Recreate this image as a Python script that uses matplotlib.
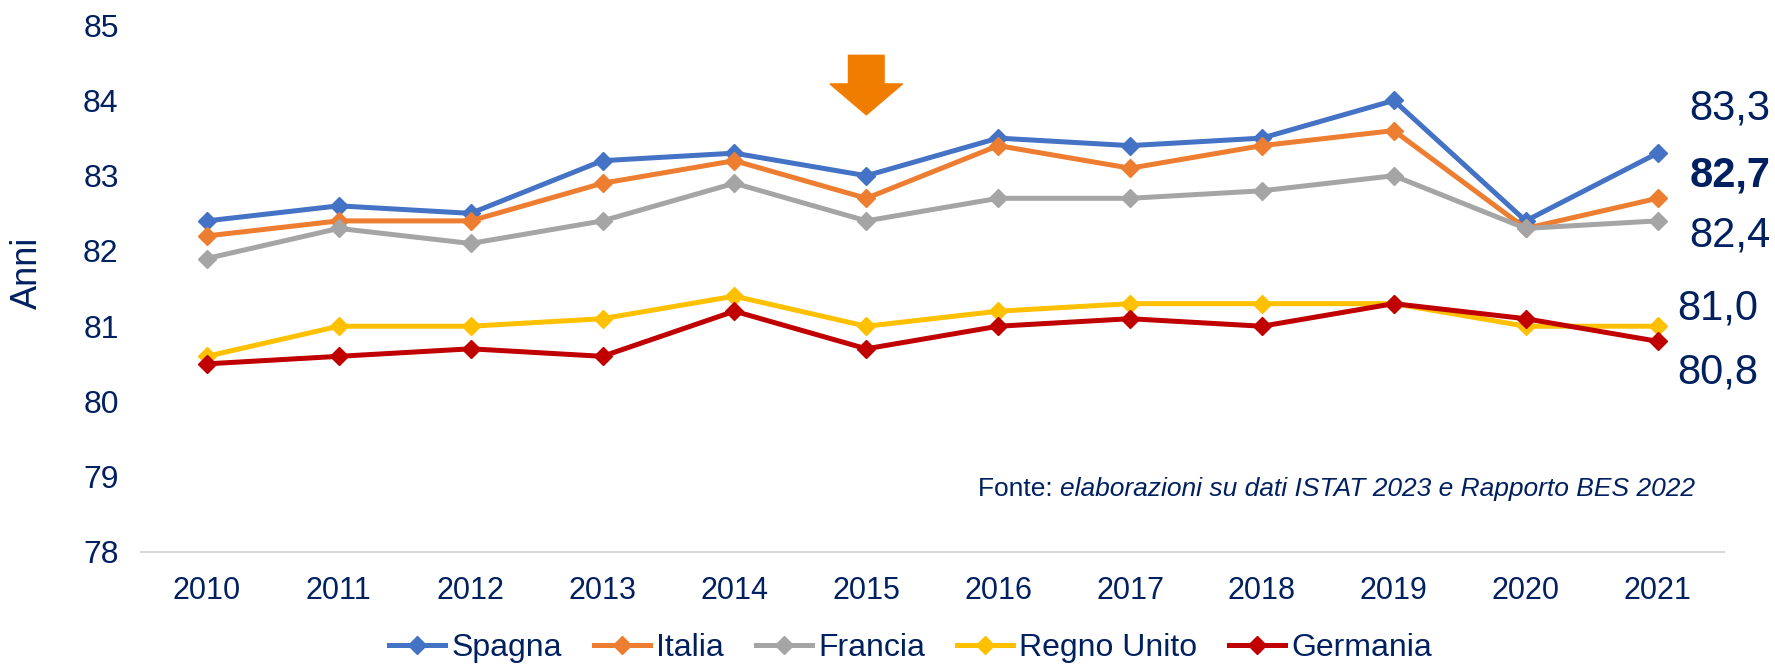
import numpy as np
import matplotlib
matplotlib.use("Agg")
import matplotlib.pyplot as plt

plt.rcParams['font.family'] = ['Liberation Sans', 'DejaVu Sans']

years = ["2010", "2011", "2012", "2013", "2014", "2015",
         "2016", "2017", "2018", "2019", "2020", "2021"]
spagna = [82.4, 82.6, 82.5, 83.2, 83.3, 83.0, 83.5, 83.4, 83.5, 84.0, 82.4, 83.3]
italia = [82.2, 82.4, 82.4, 82.9, 83.2, 82.7, 83.4, 83.1, 83.4, 83.6, 82.3, 82.7]
francia = [81.9, 82.3, 82.1, 82.4, 82.9, 82.4, 82.7, 82.7, 82.8, 83.0, 82.3, 82.4]
regno_unito = [80.6, 81.0, 81.0, 81.1, 81.4, 81.0, 81.2, 81.3, 81.3, 81.3, 81.0, 81.0]
germania = [80.5, 80.6, 80.7, 80.6, 81.2, 80.7, 81.0, 81.1, 81.0, 81.3, 81.1, 80.8]

series = [("Spagna", spagna, "#4472C4"),
          ("Italia", italia, "#ED7D31"),
          ("Francia", francia, "#A5A5A5"),
          ("Regno Unito", regno_unito, "#FFC000"),
          ("Germania", germania, "#C00000")]

navy = "#002060"

fig = plt.figure(figsize=(17.75, 6.64), dpi=100)
ax = fig.add_axes([0.0794, 0.1687, 0.8916, 0.7933])

x = np.arange(len(years))
for name, vals, col in series:
    ax.plot(x, vals, color=col, lw=3.6, marker='D', markersize=9, label=name)

ax.set_xlim(-0.5, len(years) - 0.5)
ax.set_ylim(78, 85)
ax.set_yticks(range(78, 86))
ax.set_xticks(x)
ax.set_xticklabels(years)
ax.tick_params(axis='both', length=0, labelcolor=navy)
ax.tick_params(axis='x', pad=17, labelsize=22)
ax.tick_params(axis='y', pad=16, labelsize=23)
for s in ['top', 'right', 'left']:
    ax.spines[s].set_visible(False)
ax.spines['bottom'].set_color('#D9D9D9')
ax.spines['bottom'].set_linewidth(1.5)

fig.text(27 / 1775, 1 - 273 / 664, "Anni", rotation=90, ha='center', va='center',
         fontsize=26, color=navy)

# last-year value labels on the right
end_labels = [("83,3", 83.9, 11.24, 'normal'),
              ("82,7", 83.0, 11.24, 'bold'),
              ("82,4", 82.2, 11.24, 'normal'),
              ("81,0", 81.24, 11.15, 'normal'),
              ("80,8", 80.38, 11.15, 'normal')]
for txt, yy, xx, w in end_labels:
    ax.text(xx, yy, txt, fontsize=30, color=navy, fontweight=w,
            ha='left', va='center', clip_on=False)

# orange arrow over 2015
ax.arrow(5, 84.6, 0, -0.79, width=0.27, head_width=0.55, head_length=0.41,
         length_includes_head=True, color="#F07D00", clip_on=False)

src = ax.text(11.28, 78.84, "elaborazioni su dati ISTAT 2023 e Rapporto BES 2022",
              fontsize=19, style='italic', color=navy, ha='right', va='center')
ax.annotate("Fonte: ", xy=(0, 0.5), xycoords=src, fontsize=19, color=navy,
            ha='right', va='center')

fig.legend(loc='center', bbox_to_anchor=(0.513, 0.024), ncol=5, frameon=False,
           fontsize=23, labelcolor=navy, handlelength=1.75, handletextpad=0.2,
           columnspacing=1.0)

fig.savefig("out.png", dpi=100)
